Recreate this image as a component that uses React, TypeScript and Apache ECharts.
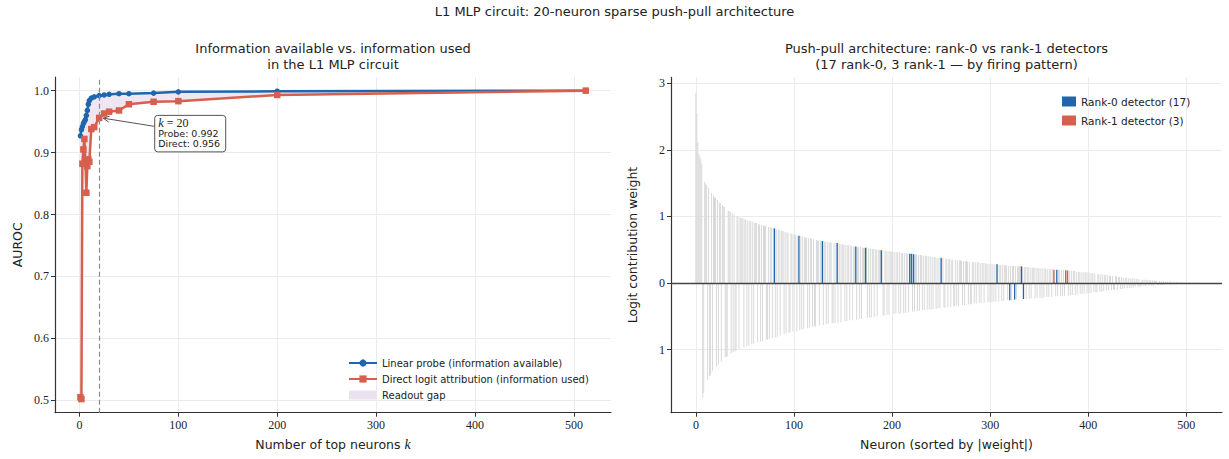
import React, { useEffect, useRef } from "react";
import * as echarts from "echarts";

// ---------------- Data ----------------
const kValues = [1, 2, 3, 4, 5, 6, 7, 8, 9, 10, 12, 15, 20, 25, 30, 40, 50, 75, 100, 200, 512];
const probeAuroc = [0.927, 0.937, 0.942, 0.947, 0.95, 0.953, 0.96, 0.968, 0.978, 0.984, 0.988, 0.99, 0.992, 0.993, 0.994, 0.995, 0.995, 0.996, 0.998, 0.999, 1.0];
const directAuroc = [0.505, 0.502, 0.882, 0.905, 0.922, 0.888, 0.835, 0.878, 0.889, 0.885, 0.938, 0.941, 0.956, 0.963, 0.966, 0.968, 0.978, 0.982, 0.983, 0.993, 1.0];
const annotationK = 20;

const leftXTicks = [0, 100, 200, 300, 400, 500];
const leftYTicks = [0.5, 0.6, 0.7, 0.8, 0.9, 1.0];
const rightXTicks = [0, 100, 200, 300, 400, 500];
const rightYTicks = [-1, 0, 1, 2, 3];

// |weight| of the 512 neurons, sorted descending (16 per row)
const neuronMagnitudes = [
  2.86, 2.55, 2.12, 1.94, 1.9, 1.86, 1.79, 1.72, 1.65, 1.52, 1.49, 1.47, 1.46, 1.43, 1.4, 1.38,
  1.35, 1.32, 1.31, 1.29, 1.28, 1.26, 1.25, 1.23, 1.21, 1.2, 1.18, 1.17, 1.15, 1.14, 1.12, 1.11,
  1.1, 1.09, 1.08, 1.07, 1.06, 1.05, 1.04, 1.03, 1.03, 1.02, 1.01, 1.0, 0.99, 0.98, 0.98, 0.97,
  0.97, 0.96, 0.96, 0.95, 0.95, 0.94, 0.94, 0.93, 0.93, 0.92, 0.92, 0.91, 0.91, 0.9, 0.9, 0.89,
  0.89, 0.88, 0.88, 0.87, 0.87, 0.86, 0.86, 0.86, 0.85, 0.85, 0.84, 0.84, 0.84, 0.83, 0.83, 0.83,
  0.82, 0.82, 0.81, 0.81, 0.8, 0.8, 0.79, 0.79, 0.78, 0.78, 0.77, 0.77, 0.76, 0.76, 0.75, 0.75,
  0.74, 0.74, 0.74, 0.73, 0.73, 0.72, 0.72, 0.72, 0.71, 0.71, 0.71, 0.7, 0.7, 0.7, 0.69, 0.69,
  0.68, 0.68, 0.68, 0.67, 0.67, 0.67, 0.66, 0.66, 0.66, 0.65, 0.65, 0.65, 0.64, 0.64, 0.64, 0.64,
  0.63, 0.63, 0.63, 0.62, 0.62, 0.62, 0.62, 0.61, 0.61, 0.61, 0.61, 0.61, 0.6, 0.6, 0.6, 0.6,
  0.6, 0.6, 0.59, 0.59, 0.59, 0.58, 0.58, 0.58, 0.58, 0.57, 0.57, 0.57, 0.57, 0.56, 0.56, 0.56,
  0.56, 0.55, 0.55, 0.55, 0.55, 0.54, 0.54, 0.54, 0.54, 0.54, 0.53, 0.53, 0.53, 0.53, 0.53, 0.52,
  0.52, 0.52, 0.52, 0.52, 0.51, 0.51, 0.51, 0.51, 0.5, 0.5, 0.5, 0.5, 0.5, 0.49, 0.49, 0.49,
  0.49, 0.49, 0.48, 0.48, 0.48, 0.48, 0.48, 0.47, 0.47, 0.47, 0.47, 0.47, 0.46, 0.46, 0.46, 0.46,
  0.46, 0.46, 0.45, 0.45, 0.45, 0.45, 0.45, 0.45, 0.44, 0.44, 0.44, 0.44, 0.44, 0.43, 0.43, 0.43,
  0.43, 0.43, 0.42, 0.42, 0.42, 0.42, 0.42, 0.41, 0.41, 0.41, 0.41, 0.41, 0.4, 0.4, 0.4, 0.4,
  0.4, 0.39, 0.39, 0.39, 0.39, 0.39, 0.38, 0.38, 0.38, 0.38, 0.38, 0.37, 0.37, 0.37, 0.37, 0.37,
  0.36, 0.36, 0.36, 0.36, 0.36, 0.35, 0.35, 0.35, 0.35, 0.35, 0.34, 0.34, 0.34, 0.34, 0.34, 0.33,
  0.33, 0.33, 0.33, 0.33, 0.33, 0.32, 0.32, 0.32, 0.32, 0.32, 0.32, 0.31, 0.31, 0.31, 0.31, 0.31,
  0.31, 0.3, 0.3, 0.3, 0.3, 0.3, 0.3, 0.3, 0.29, 0.29, 0.29, 0.29, 0.29, 0.29, 0.29, 0.28,
  0.28, 0.28, 0.28, 0.28, 0.28, 0.28, 0.27, 0.27, 0.27, 0.27, 0.27, 0.27, 0.27, 0.26, 0.26, 0.26,
  0.26, 0.26, 0.26, 0.26, 0.26, 0.25, 0.25, 0.25, 0.25, 0.25, 0.25, 0.25, 0.25, 0.24, 0.24, 0.24,
  0.24, 0.24, 0.24, 0.24, 0.24, 0.23, 0.23, 0.23, 0.23, 0.23, 0.23, 0.23, 0.23, 0.22, 0.22, 0.22,
  0.22, 0.22, 0.22, 0.22, 0.22, 0.21, 0.21, 0.21, 0.21, 0.21, 0.21, 0.21, 0.21, 0.2, 0.2, 0.2,
  0.2, 0.2, 0.2, 0.2, 0.2, 0.19, 0.19, 0.19, 0.19, 0.19, 0.19, 0.19, 0.19, 0.18, 0.18, 0.18,
  0.18, 0.18, 0.18, 0.18, 0.17, 0.17, 0.17, 0.17, 0.17, 0.17, 0.16, 0.16, 0.16, 0.16, 0.16, 0.16,
  0.16, 0.15, 0.15, 0.15, 0.15, 0.15, 0.14, 0.14, 0.14, 0.14, 0.14, 0.13, 0.13, 0.13, 0.13, 0.13,
  0.12, 0.12, 0.12, 0.12, 0.12, 0.11, 0.11, 0.11, 0.11, 0.11, 0.1, 0.1, 0.1, 0.1, 0.1, 0.09,
  0.09, 0.09, 0.09, 0.09, 0.08, 0.08, 0.08, 0.08, 0.08, 0.08, 0.07, 0.07, 0.07, 0.07, 0.07, 0.07,
  0.06, 0.06, 0.06, 0.06, 0.06, 0.06, 0.05, 0.05, 0.05, 0.05, 0.05, 0.05, 0.05, 0.04, 0.04, 0.04,
  0.04, 0.04, 0.04, 0.04, 0.04, 0.03, 0.03, 0.03, 0.03, 0.03, 0.03, 0.03, 0.03, 0.02, 0.02, 0.02,
  0.02, 0.02, 0.02, 0.02, 0.02, 0.02, 0.02, 0.015, 0.015, 0.015, 0.015, 0.015, 0.012, 0.012, 0.012, 0.01,
  0.01, 0.01, 0.01, 0.008, 0.008, 0.008, 0.006, 0.006, 0.005, 0.005, 0.004, 0.003, 0.003, 0.002, 0.001, 0.001,
];

// sign of each neuron's weight (16 per row)
const neuronSigns = [
  "+++++++--+++-+--",
  "+-+++-+-++-+++--",
  "-+++-+-+--++-+++",
  "+-++-+-++-+-+++-",
  "++-+-+++--+-++-+",
  "+-+-++-+++-+-++-",
  "-++-+++-++-+-+-+",
  "++-+-++-+--+++-+",
  "++-++-+-+++--+-+",
  "+-++-+++-+-++-++",
  "-+++-++-+-+++++-",
  "+-+-++-++-+++++-",
  "-++-+-++++-+-++-",
  "+-++-+-++-+++-+-",
  "++-+-++-+-++-+-+",
  "-+-++-+-+-+++--+",
  "+-++-++--+-+-+++",
  "-+-+++-+--++-+-+",
  "+-+-++-+++-+-+-+",
  "-+-++-++-+-+++-+",
  "-+-++-+-++++++-+",
  "+-++-+-+++-+-++-",
  "+-+-++-+-++-+++-",
  "+-++-+-+-+++-+-+",
  "-++-+-++-+-+-++-",
  "+-+-++-+--++-+-+",
  "-++-+-++-+--++-+",
  "+-+-+-++-+-+-+-+",
  "-++-+--++-+-++-+",
  "+-+-+++--+-+-+-+",
  "-+-++-+-+-++-+-+",
  "+-+-+-++-+-+-+-+",
].join("");

const rank0Indices = [80, 105, 129, 144, 163, 173, 189, 218, 220, 222, 250, 307, 320, 325, 332, 334, 368];
const rank1Indices = [365, 377, 379];

// ---------------- Styles ----------------
const SANS = "'DejaVu Sans', 'Noto Sans', sans-serif";
const SERIF = "'Liberation Serif', 'DejaVu Serif', serif";
const BLUE = "#2166ac";
const RED = "#d6604d";
const GAP = "rgba(120, 60, 140, 0.13)";
const GAP_SOLID = "#ebe2ef";
const BAR_GRAY = "#d9d9d9";
const GRID = "#ebebeb";
const AXIS = "#333333";

const PROBE_NAME = "Linear probe (information available)";
const DIRECT_NAME = "Direct logit attribution (information used)";
const GAP_NAME = "Readout gap";
const R0_NAME = "Rank-0 detector (17)";
const R1_NAME = "Rank-1 detector (3)";

function axisCommon(ticks: number[], fmt?: (v: number) => string) {
  return {
    axisLine: { show: true, onZero: false, lineStyle: { color: AXIS, width: 1.2 } },
    axisTick: { show: true, customValues: ticks, length: 4, lineStyle: { color: AXIS, width: 1 } },
    axisLabel: {
      customValues: ticks,
      fontFamily: SERIF,
      fontSize: 12,
      color: "#222",
      margin: 6,
      formatter: fmt,
    },
    splitLine: { show: true, lineStyle: { color: GRID, width: 1 } },
  };
}

export default function App() {
  const ref = useRef<HTMLDivElement>(null);

  useEffect(() => {
    if (!ref.current) return;
    const chart = echarts.init(ref.current, undefined, { renderer: "svg" });

    const n = Math.min(neuronMagnitudes.length, neuronSigns.length);
    const weights: number[] = [];
    for (let i = 0; i < n; i++) weights.push(neuronMagnitudes[i] * (neuronSigns[i] === "-" ? -1 : 1));
    const colored = new Set([...rank0Indices, ...rank1Indices]);
    const grayData: number[][] = [];
    for (let i = 0; i < n; i++) if (!colored.has(i)) grayData.push([i, weights[i]]);
    const blueData = rank0Indices.map((i) => [i, weights[i]]);
    const redData = rank1Indices.map((i) => [i, weights[i]]);

    const probeData = kValues.map((k, i) => [k, probeAuroc[i]]);
    const directData = kValues.map((k, i) => [k, directAuroc[i]]);

    const option: any = {
      animation: false,
      backgroundColor: "#ffffff",
      grid: [
        { left: 55, right: 618, top: 77, bottom: 46.3 },
        { left: 671, right: 7, top: 77.4, bottom: 46.3 },
      ],
      xAxis: [
        {
          type: "value",
          gridIndex: 0,
          min: -24.7,
          max: 537.5,
          ...axisCommon(leftXTicks, (v: number) => String(Math.round(v))),
          name: "Number of top neurons {i|k}",
          nameLocation: "middle",
          nameGap: 25,
          nameTextStyle: {
            fontFamily: SANS,
            fontSize: 12.5,
            color: "#222",
            rich: { i: { fontFamily: SERIF, fontStyle: "italic", fontSize: 14, color: "#222" } },
          },
        },
        {
          type: "value",
          gridIndex: 1,
          min: -25.5,
          max: 536.5,
          ...axisCommon(rightXTicks, (v: number) => String(Math.round(v))),
          name: "Neuron (sorted by |weight|)",
          nameLocation: "middle",
          nameGap: 25,
          nameTextStyle: { fontFamily: SANS, fontSize: 12.5, color: "#222" },
        },
      ],
      yAxis: [
        {
          type: "value",
          gridIndex: 0,
          min: 0.48,
          max: 1.022,
          ...axisCommon(leftYTicks, (v: number) => v.toFixed(1)),
          name: "AUROC",
          nameLocation: "middle",
          nameGap: 31,
          nameTextStyle: { fontFamily: SANS, fontSize: 12.5, color: "#222" },
        },
        {
          type: "value",
          gridIndex: 1,
          min: -1.949,
          max: 3.089,
          ...axisCommon(rightYTicks, (v: number) => String(Math.abs(Math.round(v)))),
          name: "Logit contribution weight",
          nameLocation: "middle",
          nameGap: 32,
          nameTextStyle: { fontFamily: SANS, fontSize: 12.5, color: "#222" },
        },
      ],
      legend: [
        {
          orient: "vertical",
          left: 343,
          top: 353,
          itemWidth: 28,
          itemHeight: 9,
          itemGap: 6,
          textStyle: { fontFamily: SANS, fontSize: 10, color: "#222" },
          data: [
            { name: PROBE_NAME },
            { name: DIRECT_NAME },
            { name: GAP_NAME, icon: "rect", itemStyle: { color: GAP_SOLID } },
          ],
        },
        {
          orient: "vertical",
          left: 1057,
          top: 91,
          itemWidth: 14,
          itemHeight: 10,
          itemGap: 8,
          textStyle: { fontFamily: SANS, fontSize: 10.5, color: "#222" },
          data: [{ name: R0_NAME, icon: "rect" }, { name: R1_NAME, icon: "rect" }],
        },
      ],
      series: [
        {
          type: "custom",
          name: GAP_NAME,
          coordinateSystem: "cartesian2d",
          xAxisIndex: 0,
          yAxisIndex: 0,
          data: [[kValues[0], probeAuroc[0]]],
          itemStyle: { color: GAP_SOLID },
          silent: true,
          z: 1,
          renderItem: (_params: any, api: any) => {
            const top = kValues.map((k, i) => api.coord([k, probeAuroc[i]]));
            const bottom = kValues.map((k, i) => api.coord([k, directAuroc[i]])).reverse();
            return {
              type: "polygon",
              shape: { points: [...top, ...bottom] },
              style: { fill: GAP, stroke: null },
            };
          },
        },
        {
          type: "line",
          name: PROBE_NAME,
          xAxisIndex: 0,
          yAxisIndex: 0,
          data: probeData,
          symbol: "circle",
          symbolSize: 5.5,
          itemStyle: { color: BLUE },
          lineStyle: { color: BLUE, width: 2.5 },
          z: 3,
          markLine: {
            silent: true,
            symbol: "none",
            label: { show: false },
            lineStyle: { color: "#8a8a8a", width: 1.2, type: [5, 3] },
            data: [{ xAxis: annotationK }],
          },
        },
        {
          type: "line",
          name: DIRECT_NAME,
          xAxisIndex: 0,
          yAxisIndex: 0,
          data: directData,
          symbol: "rect",
          symbolSize: 6.5,
          itemStyle: { color: RED },
          lineStyle: { color: RED, width: 2.5 },
          z: 4,
        },
        {
          type: "bar",
          name: "all neurons",
          xAxisIndex: 1,
          yAxisIndex: 1,
          data: grayData,
          barWidth: 1,
          barGap: "-100%",
          itemStyle: { color: BAR_GRAY },
          silent: true,
          z: 2,
          markLine: {
            silent: true,
            symbol: "none",
            label: { show: false },
            lineStyle: { color: "#444", width: 1.4, type: "solid" },
            data: [{ yAxis: 0 }],
            z: 6,
          },
        },
        {
          type: "bar",
          name: R0_NAME,
          xAxisIndex: 1,
          yAxisIndex: 1,
          data: blueData,
          barWidth: 1.3,
          barGap: "-100%",
          itemStyle: { color: BLUE },
          z: 3,
        },
        {
          type: "bar",
          name: R1_NAME,
          xAxisIndex: 1,
          yAxisIndex: 1,
          data: redData,
          barWidth: 1.3,
          barGap: "-100%",
          itemStyle: { color: RED },
          z: 3,
        },
      ],
    };

    chart.setOption(option);

    // annotation + titles
    const ai = kValues.indexOf(annotationK);
    const p = chart.convertToPixel({ xAxisIndex: 0, yAxisIndex: 0 }, [annotationK, directAuroc[ai]]) as number[];
    const ax = p[0];
    const ay = p[1];
    const start = [ax + 55.5, ay + 8.5];
    const tip = [ax + 4, ay + 0.3];
    const dx = tip[0] - start[0];
    const dy = tip[1] - start[1];
    const len = Math.sqrt(dx * dx + dy * dy);
    const ux = dx / len;
    const uy = dy / len;
    const nx = -uy;
    const ny = ux;
    const hl = 6;
    const hw = 3;

    const titleStyle = { fill: "#222", font: `13px ${SANS}`, textAlign: "center", textVerticalAlign: "top", lineHeight: 16 };

    chart.setOption({
      graphic: [
        { type: "text", x: 614.5, y: 3, style: { ...titleStyle, text: "L1 MLP circuit: 20-neuron sparse push-pull architecture" } },
        { type: "text", x: 333, y: 40, style: { ...titleStyle, text: "Information available vs. information used\nin the L1 MLP circuit" } },
        { type: "text", x: 946.5, y: 40, style: { ...titleStyle, text: "Push-pull architecture: rank-0 vs rank-1 detectors\n(17 rank-0, 3 rank-1 — by firing pattern)" } },
        {
          type: "line",
          shape: { x1: start[0], y1: start[1], x2: tip[0], y2: tip[1] },
          style: { stroke: "#555", lineWidth: 1 },
          z: 20,
        },
        {
          type: "polyline",
          shape: {
            points: [
              [tip[0] - hl * ux + hw * nx, tip[1] - hl * uy + hw * ny],
              [tip[0], tip[1]],
              [tip[0] - hl * ux - hw * nx, tip[1] - hl * uy - hw * ny],
            ],
          },
          style: { stroke: "#555", lineWidth: 1, fill: null },
          z: 20,
        },
        {
          type: "rect",
          shape: { x: ax + 55.5, y: ay - 2.5, width: 71, height: 36.5, r: 3 },
          style: { fill: "#ffffff", stroke: "#555", lineWidth: 1 },
          z: 20,
        },
        {
          type: "text",
          x: ax + 59,
          y: ay + 5,
          z: 21,
          style: {
            text: "{i|k} = 20",
            textVerticalAlign: "middle",
            font: `12px ${SERIF}`,
            fill: "#222",
            rich: { i: { fontFamily: SERIF, fontStyle: "italic", fontSize: 12.5, fill: "#222" } },
          },
        },
        {
          type: "text",
          x: ax + 59,
          y: ay + 16,
          z: 21,
          style: { text: "Probe: " + probeAuroc[ai].toFixed(3), textVerticalAlign: "middle", font: `9.5px ${SANS}`, fill: "#222" },
        },
        {
          type: "text",
          x: ax + 59,
          y: ay + 26,
          z: 21,
          style: { text: "Direct: " + directAuroc[ai].toFixed(3), textVerticalAlign: "middle", font: `9.5px ${SANS}`, fill: "#222" },
        },
      ],
    });

    return () => chart.dispose();
  }, []);

  return (
    <div
      ref={ref}
      style={{ position: "fixed", left: 0, top: 0, width: 1229, height: 459, background: "#fff" }}
    />
  );
}
